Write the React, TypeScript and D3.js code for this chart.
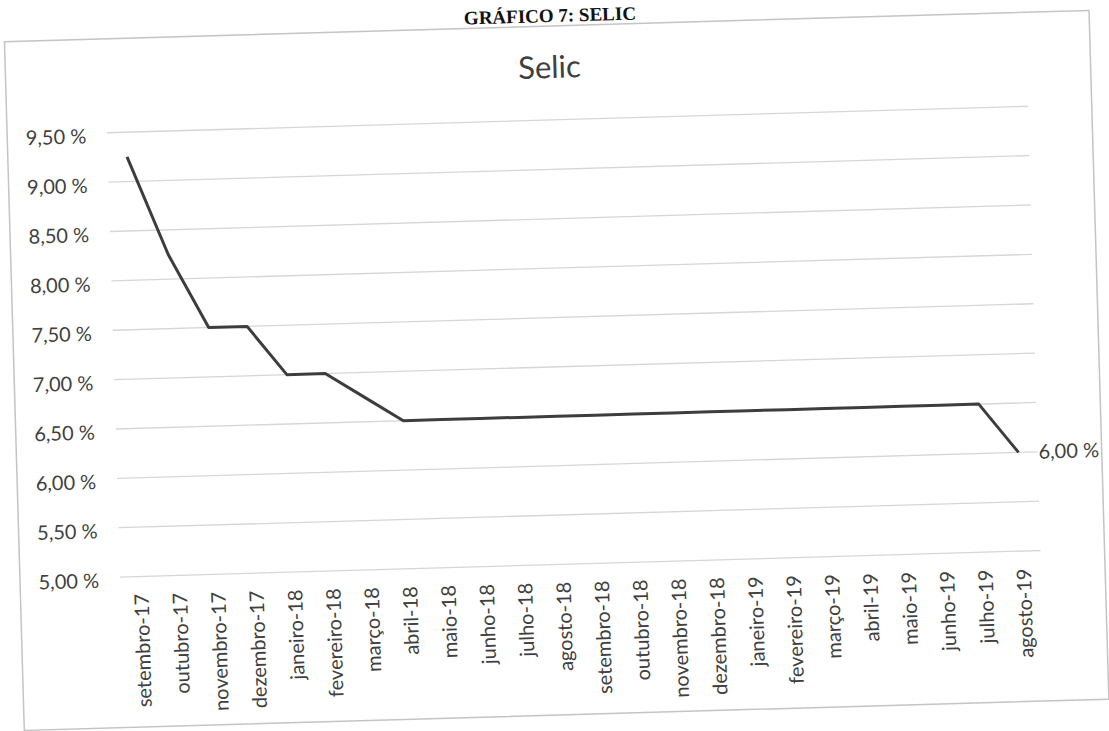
import React from "react";
import * as d3 from "d3";

const categories = [
  "setembro-17", "outubro-17", "novembro-17", "dezembro-17",
  "janeiro-18", "fevereiro-18", "março-18", "abril-18",
  "maio-18", "junho-18", "julho-18", "agosto-18",
  "setembro-18", "outubro-18", "novembro-18", "dezembro-18",
  "janeiro-19", "fevereiro-19", "março-19", "abril-19",
  "maio-19", "junho-19", "julho-19", "agosto-19",
];

const selicValues = [
  9.25, 8.25, 7.5, 7.5,
  7.0, 7.0, 6.75, 6.5,
  6.5, 6.5, 6.5, 6.5,
  6.5, 6.5, 6.5, 6.5,
  6.5, 6.5, 6.5, 6.5,
  6.5, 6.5, 6.5, 6.0,
];

const yTicks = [5.0, 5.5, 6.0, 6.5, 7.0, 7.5, 8.0, 8.5, 9.0, 9.5];

const pageTitle = "GRÁFICO 7: SELIC";
const chartTitle = "Selic";

const W = 1109;
const H = 731;
const FONT = "Lato, 'Open Sans', sans-serif";

const fmt = (v: number) => v.toFixed(2).replace(".", ",") + " %";

export default function App() {
  const x = d3.scaleBand<string>().domain(categories).range([114, 1035]).paddingInner(0).paddingOuter(0);
  const y = d3.scaleLinear().domain([5, 9.5]).range([564.5, 120]);
  const cx = (c: string) => (x(c) ?? 0) + x.bandwidth() / 2;

  const pts: [number, number][] = categories.map((c, i) => [cx(c), y(selicValues[i])]);
  const path = d3.line()(pts) ?? "";
  const last = pts[pts.length - 1];

  return (
    <svg
      width={W}
      height={H}
      style={{ position: "absolute", left: 0, top: 0, background: "#fff" }}
    >
      <rect x={0} y={0} width={W} height={H} fill="#fff" />
      <g transform="rotate(-1.65, 554, 365)">
        <text
          x={560}
          y={22}
          textAnchor="middle"
          fontFamily="'Liberation Serif', 'Times New Roman', serif"
          fontWeight="bold"
          fontSize={19}
          fill="#111"
        >
          {pageTitle}
        </text>
        <rect x={14} y={26} width={1085} height={689} fill="none" stroke="#c4c4c4" strokeWidth={1.5} />
        <text x={558} y={78} textAnchor="middle" fontFamily={FONT} fontSize={31} fill="#404040">
          {chartTitle}
        </text>
        {yTicks.map((t) => (
          <g key={t}>
            <line x1={114} x2={1035} y1={y(t)} y2={y(t)} stroke="#d6d6d6" strokeWidth={1.3} />
            <text
              x={93}
              y={y(t) + 3}
              dy="0.35em"
              textAnchor="end"
              fontFamily={FONT}
              fontSize={20}
              fill="#404040"
            >
              {fmt(t)}
            </text>
          </g>
        ))}
        {categories.map((c) => (
          <text
            key={c}
            transform={`translate(${cx(c) + 2}, 582) rotate(-90)`}
            dy="0.35em"
            textAnchor="end"
            fontFamily={FONT}
            fontSize={20}
            fill="#404040"
          >
            {c}
          </text>
        ))}
        <path d={path} fill="none" stroke="#3d3d3d" strokeWidth={3} strokeLinejoin="round" />
        <text
          x={last[0] + 20}
          y={last[1]}
          dy="0.35em"
          fontFamily={FONT}
          fontSize={20}
          fill="#404040"
        >
          {fmt(selicValues[selicValues.length - 1])}
        </text>
      </g>
    </svg>
  );
}
